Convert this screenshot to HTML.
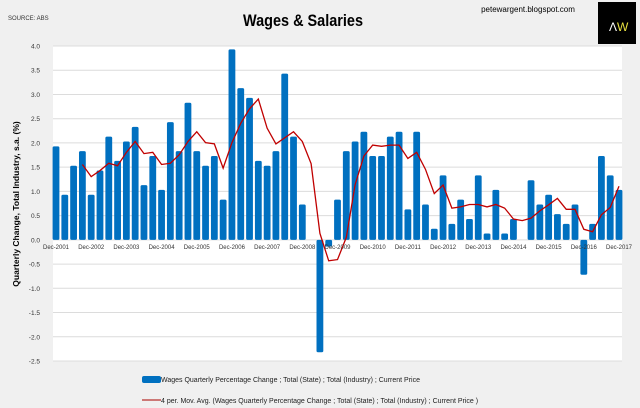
<!DOCTYPE html>
<html><head><meta charset="utf-8"><style>
body{margin:0;background:#f0f0f0;}
svg{display:block;font-family:"Liberation Sans",Arial,sans-serif;}
</style></head><body>
<svg id="chart" width="640" height="408" viewBox="0 0 640 408">
<rect x="0" y="0" width="640" height="408" fill="#f0f0f0"/>
<text x="8" y="20" font-size="6" fill="#333">SOURCE: ABS</text>
<text x="303" y="26" font-size="17" font-weight="bold" text-anchor="middle" fill="#000" textLength="120" lengthAdjust="spacingAndGlyphs">Wages &amp; Salaries</text>
<text x="528" y="12" font-size="8" text-anchor="middle" fill="#000">petewargent.blogspot.com</text>
<g>
<rect x="598" y="2" width="38" height="42" fill="#000"/>
<text x="609" y="31" font-size="12" fill="#fff">Λ</text>
<text x="617" y="31" font-size="12" fill="#e8e040">W</text>
</g>
<rect x="53" y="46" width="569" height="315" fill="#fff"/>
<g id="grid"></g>
<g id="bars"></g>
<g id="line"></g>
<g id="xlabels"></g>
<g id="ylabels"></g>
<text transform="translate(19,204) rotate(-90)" font-size="8.5" font-weight="bold" text-anchor="middle" fill="#000">Quarterly Change, Total Industry, s.a. (%)</text>
<g>
<rect x="142" y="376" width="19" height="7" rx="2" fill="#0070c0"/>
<text x="161" y="382" font-size="7" fill="#222">Wages Quarterly Percentage Change ;  Total (State) ;  Total (Industry) ;  Current Price</text>
<line x1="142" y1="400" x2="161" y2="400" stroke="#c0504d" stroke-width="1.5"/>
<text x="161" y="403" font-size="7" fill="#222">4 per. Mov. Avg. (Wages Quarterly Percentage Change ;  Total (State) ;  Total (Industry) ;  Current Price )</text>
</g>
</svg>
<script>
const values = [1.93,0.93,1.53,1.83,0.93,1.43,2.13,1.63,2.03,2.33,1.13,1.73,1.03,2.43,1.83,2.83,1.83,1.53,1.73,0.83,3.93,3.13,2.93,1.63,1.53,1.83,3.43,2.13,0.73,
0.0,-2.32,-0.14,
0.83,1.83,2.03,2.23,1.73,1.73,2.13,2.23,0.63,2.23,0.73,0.23,1.33,0.33,0.83,0.43,1.33,0.13,1.03,0.13,0.43,0.0,1.23,0.73,0.93,0.53,0.33,0.73,-0.72,0.33,1.73,1.33,1.03];
const xTickLabels = ["Dec-2001","Dec-2002","Dec-2003","Dec-2004","Dec-2005","Dec-2006","Dec-2007","Dec-2008","Dec-2009","Dec-2010","Dec-2011","Dec-2012","Dec-2013","Dec-2014","Dec-2015","Dec-2016","Dec-2017"];
const yTicks = [4.0,3.5,3.0,2.5,2.0,1.5,1.0,0.5,0.0,-0.5,-1.0,-1.5,-2.0,-2.5];
const maPeriod = 4;

const NS="http://www.w3.org/2000/svg";
const yMin=-2.5,yMax=4.0,plotTop=46,plotBottom=361,plotLeft=53,plotRight=622;
function yScale(v){return plotBottom-(v-yMin)/(yMax-yMin)*(plotBottom-plotTop);}
function xScale(i){return 56+i*(619-56)/(values.length-1);}
function mk(tag,attrs,parent){const e=document.createElementNS(NS,tag);for(const k in attrs)e.setAttribute(k,attrs[k]);parent.appendChild(e);return e;}

const grid=document.getElementById('grid'),yl=document.getElementById('ylabels');
yTicks.forEach(t=>{
  const y=yScale(t);
  const g=mk('line',{x1:plotLeft,x2:plotRight,y1:y,y2:y,stroke:'#dcdcdc','stroke-width':1},grid);
  
  
  const tx=mk('text',{x:40,y:y+2.5,'font-size':6.5,'text-anchor':'end',fill:'#333'},yl);
  tx.textContent=t.toFixed(1);
  
  
});
const bars=document.getElementById('bars');
const z=yScale(0);
values.forEach((v,i)=>{
  if(v===0)return;
  const y=yScale(v);
  const r=mk('rect',{x:xScale(i)-3.4,y:Math.min(y,z),width:6.8,height:Math.abs(y-z),rx:1.5,fill:'#0070c0'},bars);
  
  
});
const ma=[];
for(let i=maPeriod-1;i<values.length;i++){let s=0;for(let j=0;j<maPeriod;j++)s+=values[i-j];ma.push([i,s/maPeriod]);}
const p=mk('polyline',{points:ma.map(d=>xScale(d[0])+','+yScale(d[1])).join(' '),fill:'none',stroke:'#c00000','stroke-width':1.3},document.getElementById('line'));


const xl=document.getElementById('xlabels');
xTickLabels.forEach((l,k)=>{
  const t=mk('text',{x:xScale(k*4),y:z+9,'font-size':6.5,'text-anchor':'middle',fill:'#333',textLength:26,lengthAdjust:'spacingAndGlyphs'},xl);
  t.textContent=l;
  
  
});
</script>
</body></html>
